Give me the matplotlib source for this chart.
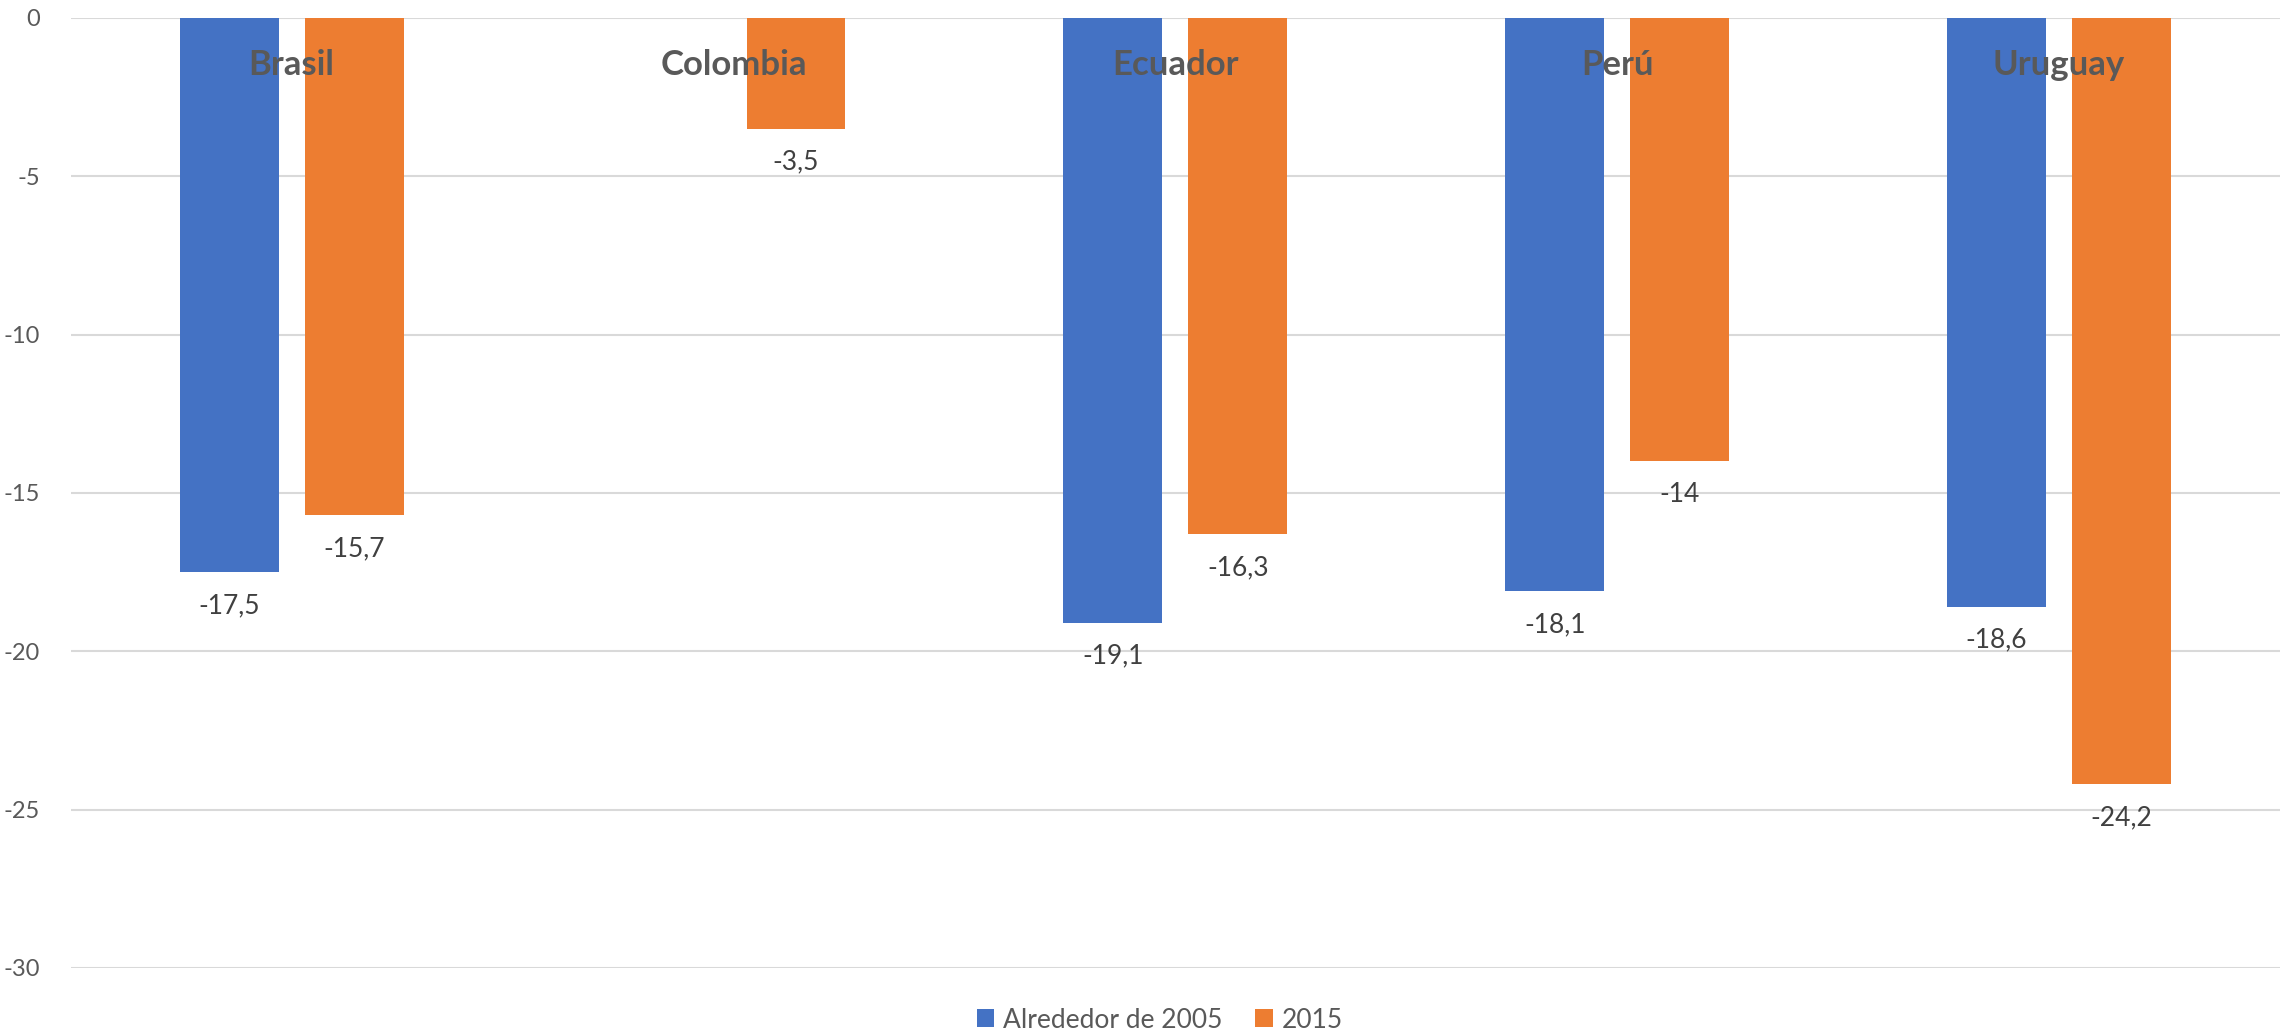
import numpy as np
import matplotlib
matplotlib.use("Agg")
import matplotlib.pyplot as plt

plt.rcParams['font.family'] = ['Lato', 'DejaVu Sans']
plt.rcParams['axes.unicode_minus'] = False

paises = ["Brasil", "Colombia", "Ecuador", "Perú", "Uruguay"]
series = ["Alrededor de 2005", "2015"]
v2005 = [-17.5, np.nan, -19.1, -18.1, -18.6]
v2015 = [-15.7, -3.5, -16.3, -14.0, -24.2]

azul = "#4472C4"
naranja = "#ED7D31"
gris = "#595959"

fig = plt.figure(figsize=(22.8, 10.34), dpi=100)
ax = fig.add_axes([0.031, 0.064, 0.969, 0.9186])

x = np.arange(len(paises))
ancho = 0.224
desp = 0.1415

b1 = ax.bar(x - desp, v2005, ancho, color=azul, label=series[0], zorder=2)
b2 = ax.bar(x + desp, v2015, ancho, color=naranja, label=series[1], zorder=2)


def etiqueta(v):
    return ("%g" % v).replace(".", ",")


for xs, vals in ((x - desp, v2005), (x + desp, v2015)):
    for xi, v in zip(xs, vals):
        if np.isnan(v):
            continue
        ax.annotate(etiqueta(v), (xi, v), xytext=(0, -24), textcoords="offset points",
                    ha="center", va="center", fontsize=19, color="#404040", zorder=3)

# nombres de los paises arriba
for xi, p in zip(x, paises):
    ax.text(xi, -1.5, p, ha="center", va="center", fontsize=25,
            fontweight="bold", color=gris, zorder=4)

ax.set_ylim(-30, 0)
ax.set_xlim(-0.5, len(paises) - 0.5)
ax.set_yticks(np.arange(-30, 1, 5))
ax.set_xticks([])
ax.tick_params(axis="y", length=0, pad=22, labelsize=17, labelcolor=gris)
ax.grid(axis="y", color="#D9D9D9", linewidth=1.5, zorder=0)
for s in ax.spines.values():
    s.set_visible(False)

ax.legend(loc="center", bbox_to_anchor=(0.493, -0.055), ncol=2, frameon=False,
          fontsize=19, labelcolor=gris, handlelength=0.65, handleheight=0.65,
          handletextpad=0.35, columnspacing=1.25, borderpad=0.2)

fig.savefig("out.png", dpi=100)
